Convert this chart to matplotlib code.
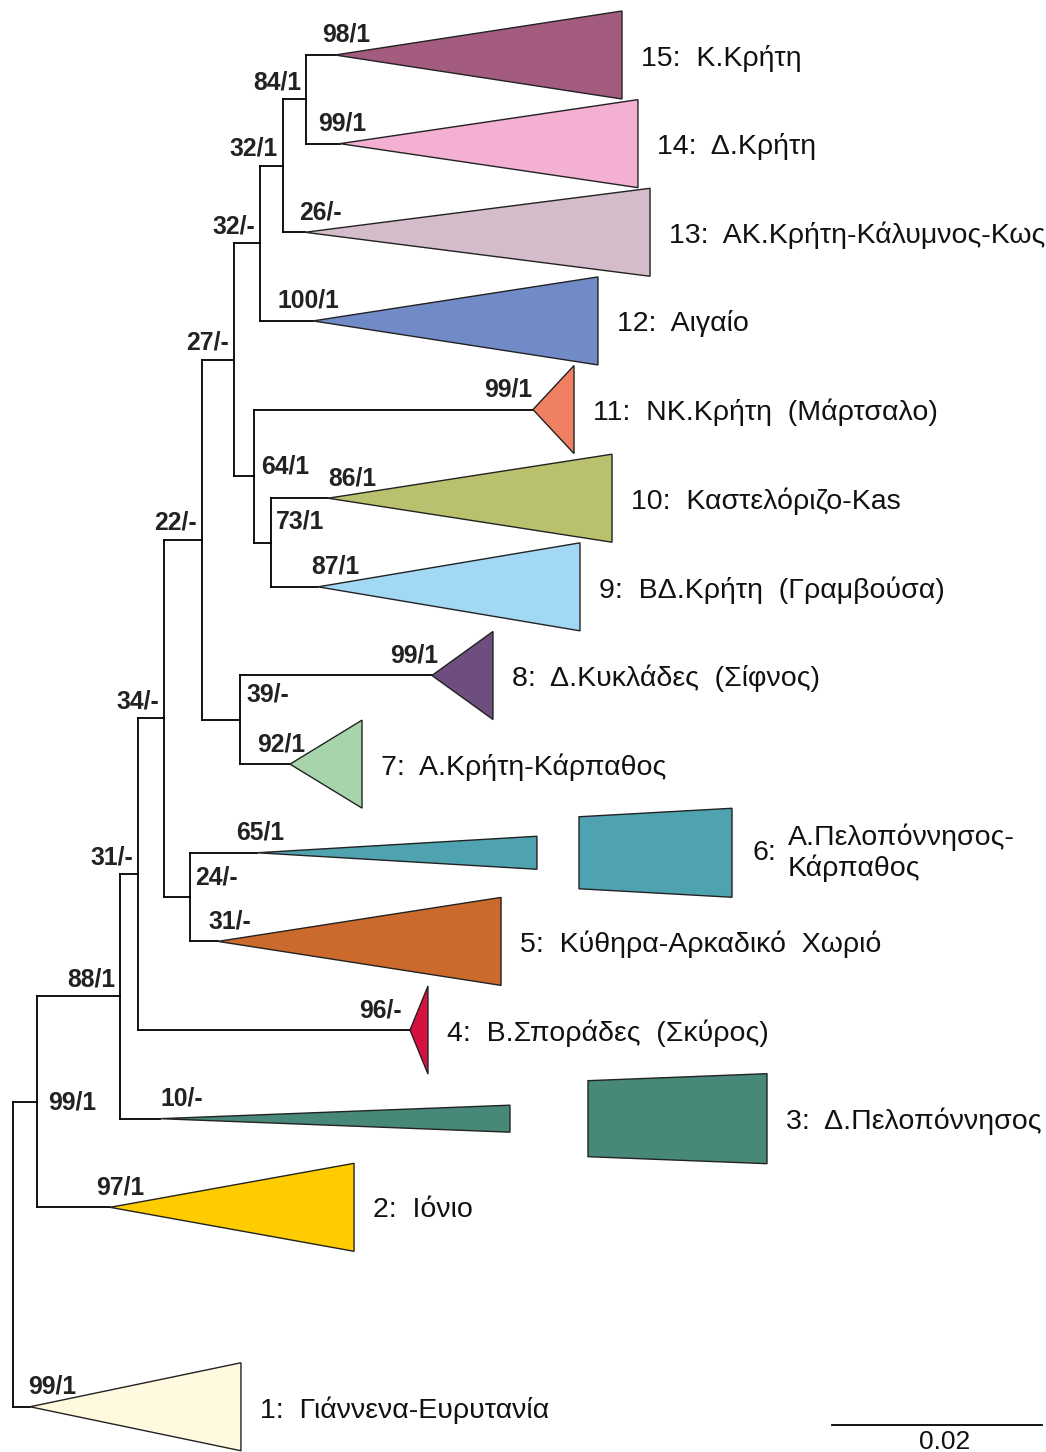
import matplotlib
matplotlib.use('Agg')
import matplotlib.pyplot as plt
from matplotlib.patches import Polygon

# ---- collapsed clades, top to bottom -------------------------------------
CLADE_IDS = ['c15', 'c14', 'c13', 'c12', 'c11', 'c10', 'c9', 'c8', 'c7',
             'c6', 'c5', 'c4', 'c3', 'c2', 'c1']
CLADE_NUMS = [15, 14, 13, 12, 11, 10, 9, 8, 7, 6, 5, 4, 3, 2, 1]
CLADE_NAMES = ['Κ.Κρήτη', 'Δ.Κρήτη', 'ΑΚ.Κρήτη-Κάλυμνος-Κως', 'Αιγαίο',
               'ΝΚ.Κρήτη  (Μάρτσαλο)', 'Καστελόριζο-Kas',
               'ΒΔ.Κρήτη  (Γραμβούσα)', 'Δ.Κυκλάδες  (Σίφνος)',
               'Α.Κρήτη-Κάρπαθος', 'Α.Πελοπόννησος-\nΚάρπαθος',
               'Κύθηρα-Αρκαδικό  Χωριό', 'Β.Σποράδες  (Σκύρος)',
               'Δ.Πελοπόννησος', 'Ιόνιο', 'Γιάννενα-Ευρυτανία']
CLADE_SUPPORT = ['98/1', '99/1', '26/-', '100/1', '99/1', '86/1', '87/1',
                 '99/1', '92/1', '65/1', '31/-', '96/-', '10/-', '97/1', '99/1']
# depth (subst./site from root) of the clade crown and of its deepest tip
CLADE_CROWN = [0.03067, 0.03114, 0.02781, 0.02857, 0.04952, 0.03000, 0.02905,
               0.03990, 0.02638, 0.02324, 0.01952, 0.03781, 0.01400, 0.00924,
               0.00162]
CLADE_TIP = [0.05800, 0.05952, 0.06067, 0.05571, 0.05343, 0.05705, 0.05400,
             0.04571, 0.03324, 0.04990, 0.04648, 0.03952, 0.04733, 0.03248,
             0.02171]
CLADE_ROW = [0, 1, 2, 3, 4, 5, 6, 7, 8, 9, 10, 11, 12, 13, 15.25]
CLADE_COLORS = ['#a35c80', '#f4b0d2', '#d5bccb', '#708bc8', '#f08062',
                '#b9c16f', '#a2d8f4', '#6e4e7e', '#a8d4ab', '#4fa3b1',
                '#cc6a2e', '#d6103f', '#478878', '#ffcc00', '#fffadf']

# ---- internal nodes ------------------------------------------------------
NODE_IDS = ['root', 'n99', 'n88', 'n31', 'n34', 'n24', 'n22', 'n39', 'n27',
            'n64', 'n73', 'n32b', 'n32a', 'n84']
NODE_DEPTH = [0.0, 0.00229, 0.01019, 0.01190, 0.01438, 0.01686, 0.01800,
              0.02162, 0.02105, 0.02295, 0.02457, 0.02352, 0.02571, 0.02790]
NODE_CHILDREN = [['n99', 'c1'], ['n88', 'c2'], ['n31', 'c3'], ['n34', 'c4'],
                 ['n22', 'n24'], ['c6', 'c5'], ['n27', 'n39'], ['c8', 'c7'],
                 ['n32b', 'n64'], ['c11', 'n73'], ['c10', 'c9'],
                 ['n32a', 'c12'], ['n84', 'c13'], ['c15', 'c14']]
NODE_SUPPORT = ['', '99/1', '88/1', '31/-', '34/-', '24/-', '22/-', '39/-',
                '27/-', '64/1', '73/1', '32/-', '32/1', '84/1']

SCALE_LEN = 0.02

# ---- layout (pixels) -----------------------------------------------------
W, H = 1046, 1452
ROOT_PX, PX_PER_UNIT = 13, 10500.0     # 0.02 == 210 px
ROW0_PX, ROW_PX = 55, 88.64
# node labels default to right-aligned above the stem; these sit inside
NODE_LABEL_POS = {'n99': (11, 1), 'n24': (5, -20), 'n39': (6, -25),
                  'n64': (7, -10), 'n73': (5, -21)}
# support label centre offset from the crown (px)
CLADE_LABEL_DX = [11, 2, 15, -5, -25, 24, 17, -18, -9, 3, 12, -30, 22, 10, 22]
CLADE_HALF = {'c6': 16.5, 'c3': 13.5}        # narrow wedges (px half-height)
# long branches drawn broken: detached box x0, x1, left half, right half (px)
BROKEN = {'c6': (579, 732, 36, 44.5), 'c3': (588, 767, 38, 45)}

FONT = 'Liberation Sans'
LW = 1.3
EDGE = '#222222'
SUP_FS = 17.8
NAME_FS = 20.5


def dx(px):
    return px / PX_PER_UNIT


def dy(px):
    return px / ROW_PX


fig = plt.figure(figsize=(W / 100, H / 100), dpi=100)
ax = fig.add_axes([0, 0, 1, 1])
ax.set_xlim(-ROOT_PX / PX_PER_UNIT, (W - ROOT_PX) / PX_PER_UNIT)
ax.set_ylim((H - ROW0_PX) / ROW_PX, -ROW0_PX / ROW_PX)
ax.axis('off')

ypos = {cid: r for cid, r in zip(CLADE_IDS, CLADE_ROW)}
xpos = {cid: c for cid, c in zip(CLADE_IDS, CLADE_CROWN)}
children = dict(zip(NODE_IDS, NODE_CHILDREN))
depth = dict(zip(NODE_IDS, NODE_DEPTH))


def node_y(nid):
    if nid in ypos:
        return ypos[nid]
    ys = [node_y(c) for c in children[nid]]
    ypos[nid] = sum(ys) / len(ys)
    xpos[nid] = depth[nid]
    return ypos[nid]


node_y('root')

# branches
for nid in NODE_IDS:
    x = depth[nid]
    cys = [ypos[c] for c in children[nid]]
    ax.plot([x, x], [min(cys), max(cys)], color='black', lw=LW,
            solid_capstyle='projecting', zorder=2)
    for c in children[nid]:
        ax.plot([x, xpos[c]], [ypos[c], ypos[c]], color='black', lw=LW,
                solid_capstyle='projecting', zorder=2)

# node support
for nid, lab in zip(NODE_IDS, NODE_SUPPORT):
    if not lab:
        continue
    x, y = depth[nid], ypos[nid]
    if nid in NODE_LABEL_POS:
        ox, oy = NODE_LABEL_POS[nid]
        ax.text(x + dx(ox), y + dy(oy), lab, ha='left', va='center',
                fontsize=SUP_FS, fontweight='bold', family=FONT, color='#222')
    else:
        ax.text(x - dx(5), y - dy(17), lab, ha='right', va='center',
                fontsize=SUP_FS, fontweight='bold', family=FONT, color='#222')

# collapsed clades
for i, cid in enumerate(CLADE_IDS):
    y = ypos[cid]
    a, t = CLADE_CROWN[i], CLADE_TIP[i]
    h = dy(CLADE_HALF.get(cid, 44))
    ax.add_patch(Polygon([(a, y), (t, y - h), (t, y + h)], closed=True,
                         facecolor=CLADE_COLORS[i], edgecolor=EDGE, lw=1.0,
                         zorder=3))
    ax.text(a + dx(CLADE_LABEL_DX[i]), y - dy(20), CLADE_SUPPORT[i],
            ha='center', va='center', fontsize=SUP_FS, fontweight='bold',
            family=FONT, color='#222', zorder=4)
    right = t
    if cid in BROKEN:
        x0, x1, h0, h1 = BROKEN[cid]
        x0, x1 = dx(x0 - ROOT_PX), dx(x1 - ROOT_PX)
        ax.add_patch(Polygon([(x0, y - dy(h0)), (x1, y - dy(h1)),
                              (x1, y + dy(h1)), (x0, y + dy(h0))],
                             closed=True, facecolor=CLADE_COLORS[i],
                             edgecolor=EDGE, lw=1.0, zorder=3))
        right = x1
    name = CLADE_NAMES[i]
    if '\n' in name:
        ax.text(right + dx(20), y, f'{CLADE_NUMS[i]}:', ha='left',
                va='center', fontsize=NAME_FS, family=FONT, color='#111')
        ax.text(right + dx(56), y, name, ha='left', va='center',
                fontsize=NAME_FS, family=FONT, color='#111', linespacing=1.2)
    else:
        ax.text(right + dx(19), y + dy(3), f'{CLADE_NUMS[i]}:  {name}',
                ha='left', va='center', fontsize=NAME_FS, family=FONT,
                color='#111')

# scale bar
sx0 = dx(832 - ROOT_PX)
sy = dy(1425 - ROW0_PX)
ax.plot([sx0, sx0 + SCALE_LEN], [sy, sy], color='black', lw=LW)
ax.text(sx0 + SCALE_LEN / 2 + dx(8), sy + dy(17), f'{SCALE_LEN:g}',
        ha='center', va='center', fontsize=19, family=FONT, color='#111')

fig.savefig('out.png', dpi=100)
